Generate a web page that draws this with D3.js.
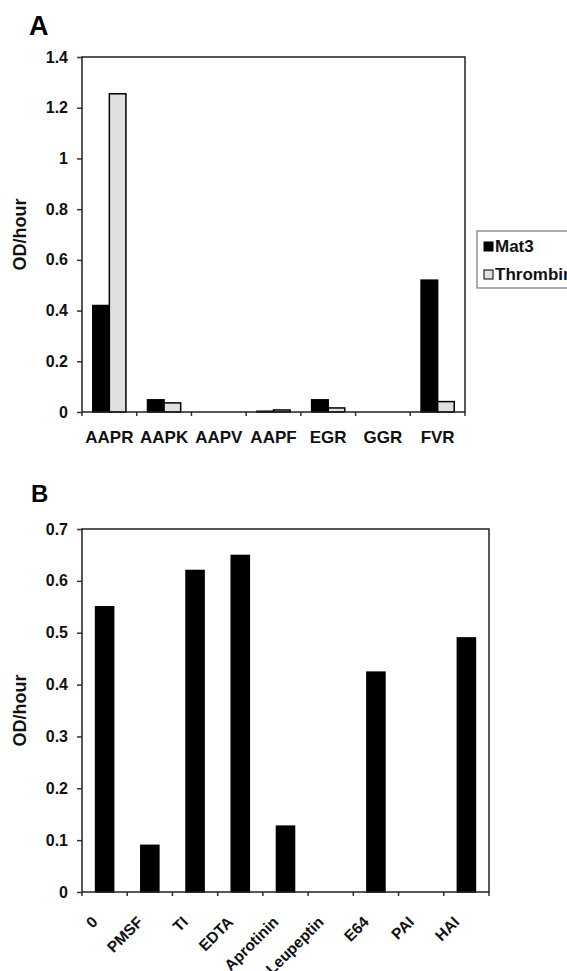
<!DOCTYPE html>
<html>
<head>
<meta charset="utf-8">
<script src="https://cdn.jsdelivr.net/npm/d3@7"></script>
<style>
    body { margin: 0; background: #fff; }
    svg { display: block; font-family: "Liberation Sans", Arial, sans-serif; }
</style>
</head>
<body>
<div id="chart"></div>
<script>
// Panel A data
const substrates = ["AAPR", "AAPK", "AAPV", "AAPF", "EGR", "GGR", "FVR"];
const seriesNames = ["Mat3", "Thrombin"];
const mat3Values = [0.42, 0.048, 0, 0.003, 0.048, 0, 0.52];
const thrombinValues = [1.255, 0.036, 0, 0.008, 0.016, 0, 0.041];
const yTicksA = [0, 0.2, 0.4, 0.6, 0.8, 1, 1.2, 1.4];

// Panel B data
const inhibitors = ["0", "PMSF", "TI", "EDTA", "Aprotinin", "Leupeptin", "E64", "PAI", "HAI"];
const inhibitorValues = [0.55, 0.09, 0.62, 0.649, 0.127, 0, 0.424, 0, 0.49];
const yTicksB = [0, 0.1, 0.2, 0.3, 0.4, 0.5, 0.6, 0.7];

const colors = { Mat3: "#000", Thrombin: "#e0e0e0" };

const svg = d3.select("#chart").append("svg")
    .attr("width", 567)
    .attr("height", 971);

function drawFrame(g, x, y, width, height, yTicks, cats) {
    // y axis
    const yAxis = g.append("g")
        .call(d3.axisLeft(y).tickValues(yTicks).tickFormat(d => String(d)).tickSize(5).tickPadding(9));
    yAxis.select(".domain").remove();
    yAxis.selectAll(".tick line").attr("stroke", "#333").attr("stroke-width", 1.5);
    yAxis.selectAll(".tick text")
        .attr("fill", "#111")
        .style("font-size", "16px")
        .style("font-weight", "bold");

    // x tick marks at band edges
    const edges = cats.map(c => x(c)).concat([width]);
    g.selectAll(".xtick").data(edges).enter().append("line")
        .attr("class", "xtick")
        .attr("x1", d => d).attr("x2", d => d)
        .attr("y1", height).attr("y2", height + 4)
        .attr("stroke", "#333").attr("stroke-width", 1.5);

    // plot border
    g.append("rect")
        .attr("width", width).attr("height", height)
        .attr("fill", "none").attr("stroke", "#222").attr("stroke-width", 1.5);
}

// ---------- Panel A ----------
const mA = { left: 82, top: 57 };
const wA = 383, hA = 355;
const gA = svg.append("g").attr("transform", `translate(${mA.left},${mA.top})`);

const xA = d3.scaleBand().domain(substrates).range([0, wA]);
const x1A = d3.scaleBand().domain(seriesNames).range([0, xA.bandwidth()]).paddingInner(0).paddingOuter(0.65);
const yA = d3.scaleLinear().domain([0, 1.4]).range([hA, 0]);

const rowsA = substrates.map((s, i) => ({ cat: s, Mat3: mat3Values[i], Thrombin: thrombinValues[i] }));

gA.selectAll(".grp").data(rowsA).enter().append("g")
    .attr("transform", d => `translate(${xA(d.cat)},0)`)
    .selectAll("rect")
    .data(d => seriesNames.map(k => ({ key: k, value: d[k] })))
    .enter().append("rect")
    .attr("x", d => x1A(d.key))
    .attr("y", d => yA(d.value))
    .attr("width", x1A.bandwidth())
    .attr("height", d => hA - yA(d.value))
    .attr("fill", d => colors[d.key])
    .attr("stroke", "#000")
    .attr("stroke-width", d => d.value > 0 ? 1.5 : 0);

drawFrame(gA, xA, yA, wA, hA, yTicksA, substrates);

gA.selectAll(".xlab").data(substrates).enter().append("text")
    .attr("x", d => xA(d) + xA.bandwidth() / 2)
    .attr("y", hA + 31)
    .attr("text-anchor", "middle")
    .style("font-size", "17px")
    .style("font-weight", "bold")
    .attr("fill", "#111")
    .text(d => d);

// legend
const legend = svg.append("g").attr("transform", "translate(477,231)");
legend.append("rect")
    .attr("width", 120).attr("height", 57)
    .attr("fill", "#fff").attr("stroke", "#777").attr("stroke-width", 1.2);
seriesNames.forEach((name, i) => {
    legend.append("rect")
        .attr("x", 7).attr("y", 11 + i * 28)
        .attr("width", 9).attr("height", 9)
        .attr("fill", colors[name]).attr("stroke", "#000").attr("stroke-width", 1);
    legend.append("text")
        .attr("x", 18).attr("y", 21 + i * 28)
        .style("font-size", "17px")
        .style("font-weight", "bold")
        .attr("fill", "#111")
        .text(name);
});

// ---------- Panel B ----------
const mB = { left: 82, top: 529 };
const wB = 407, hB = 363;
const gB = svg.append("g").attr("transform", `translate(${mB.left},${mB.top})`);

const xB = d3.scaleBand().domain(inhibitors).range([0, wB]);
const x1B = d3.scaleBand().domain(["v"]).range([0, xB.bandwidth()]).paddingOuter(0.75);
const yB = d3.scaleLinear().domain([0, 0.7]).range([hB, 0]);

gB.selectAll(".bar").data(inhibitors.map((c, i) => ({ cat: c, value: inhibitorValues[i] })))
    .enter().append("rect")
    .attr("class", "bar")
    .attr("x", d => xB(d.cat) + x1B("v"))
    .attr("y", d => yB(d.value))
    .attr("width", x1B.bandwidth())
    .attr("height", d => hB - yB(d.value))
    .attr("fill", "#000")
    .attr("stroke", "#000")
    .attr("stroke-width", d => d.value > 0 ? 1.5 : 0);

drawFrame(gB, xB, yB, wB, hB, yTicksB, inhibitors);

gB.selectAll(".xlab").data(inhibitors).enter().append("text")
    .attr("transform", d => `translate(${xB(d) + xB.bandwidth() / 2 - 6},${hB + 31}) rotate(-45)`)
    .attr("text-anchor", "end")
    .style("font-size", "15.5px")
    .style("font-weight", "bold")
    .attr("fill", "#111")
    .text(d => d);

// axis titles and panel letters
[[mA.top + hA / 2], [mB.top + hB / 2]].forEach(([cy]) => {
    svg.append("text")
        .attr("transform", `translate(26,${cy}) rotate(-90)`)
        .attr("text-anchor", "middle")
        .style("font-size", "18px")
        .style("font-weight", "bold")
        .attr("fill", "#111")
        .text("OD/hour");
});

svg.append("text").attr("x", 29).attr("y", 35)
    .style("font-size", "27px").style("font-weight", "bold").text("A");
svg.append("text").attr("x", 31).attr("y", 502)
    .style("font-size", "24px").style("font-weight", "bold").text("B");
</script>
</body>
</html>
